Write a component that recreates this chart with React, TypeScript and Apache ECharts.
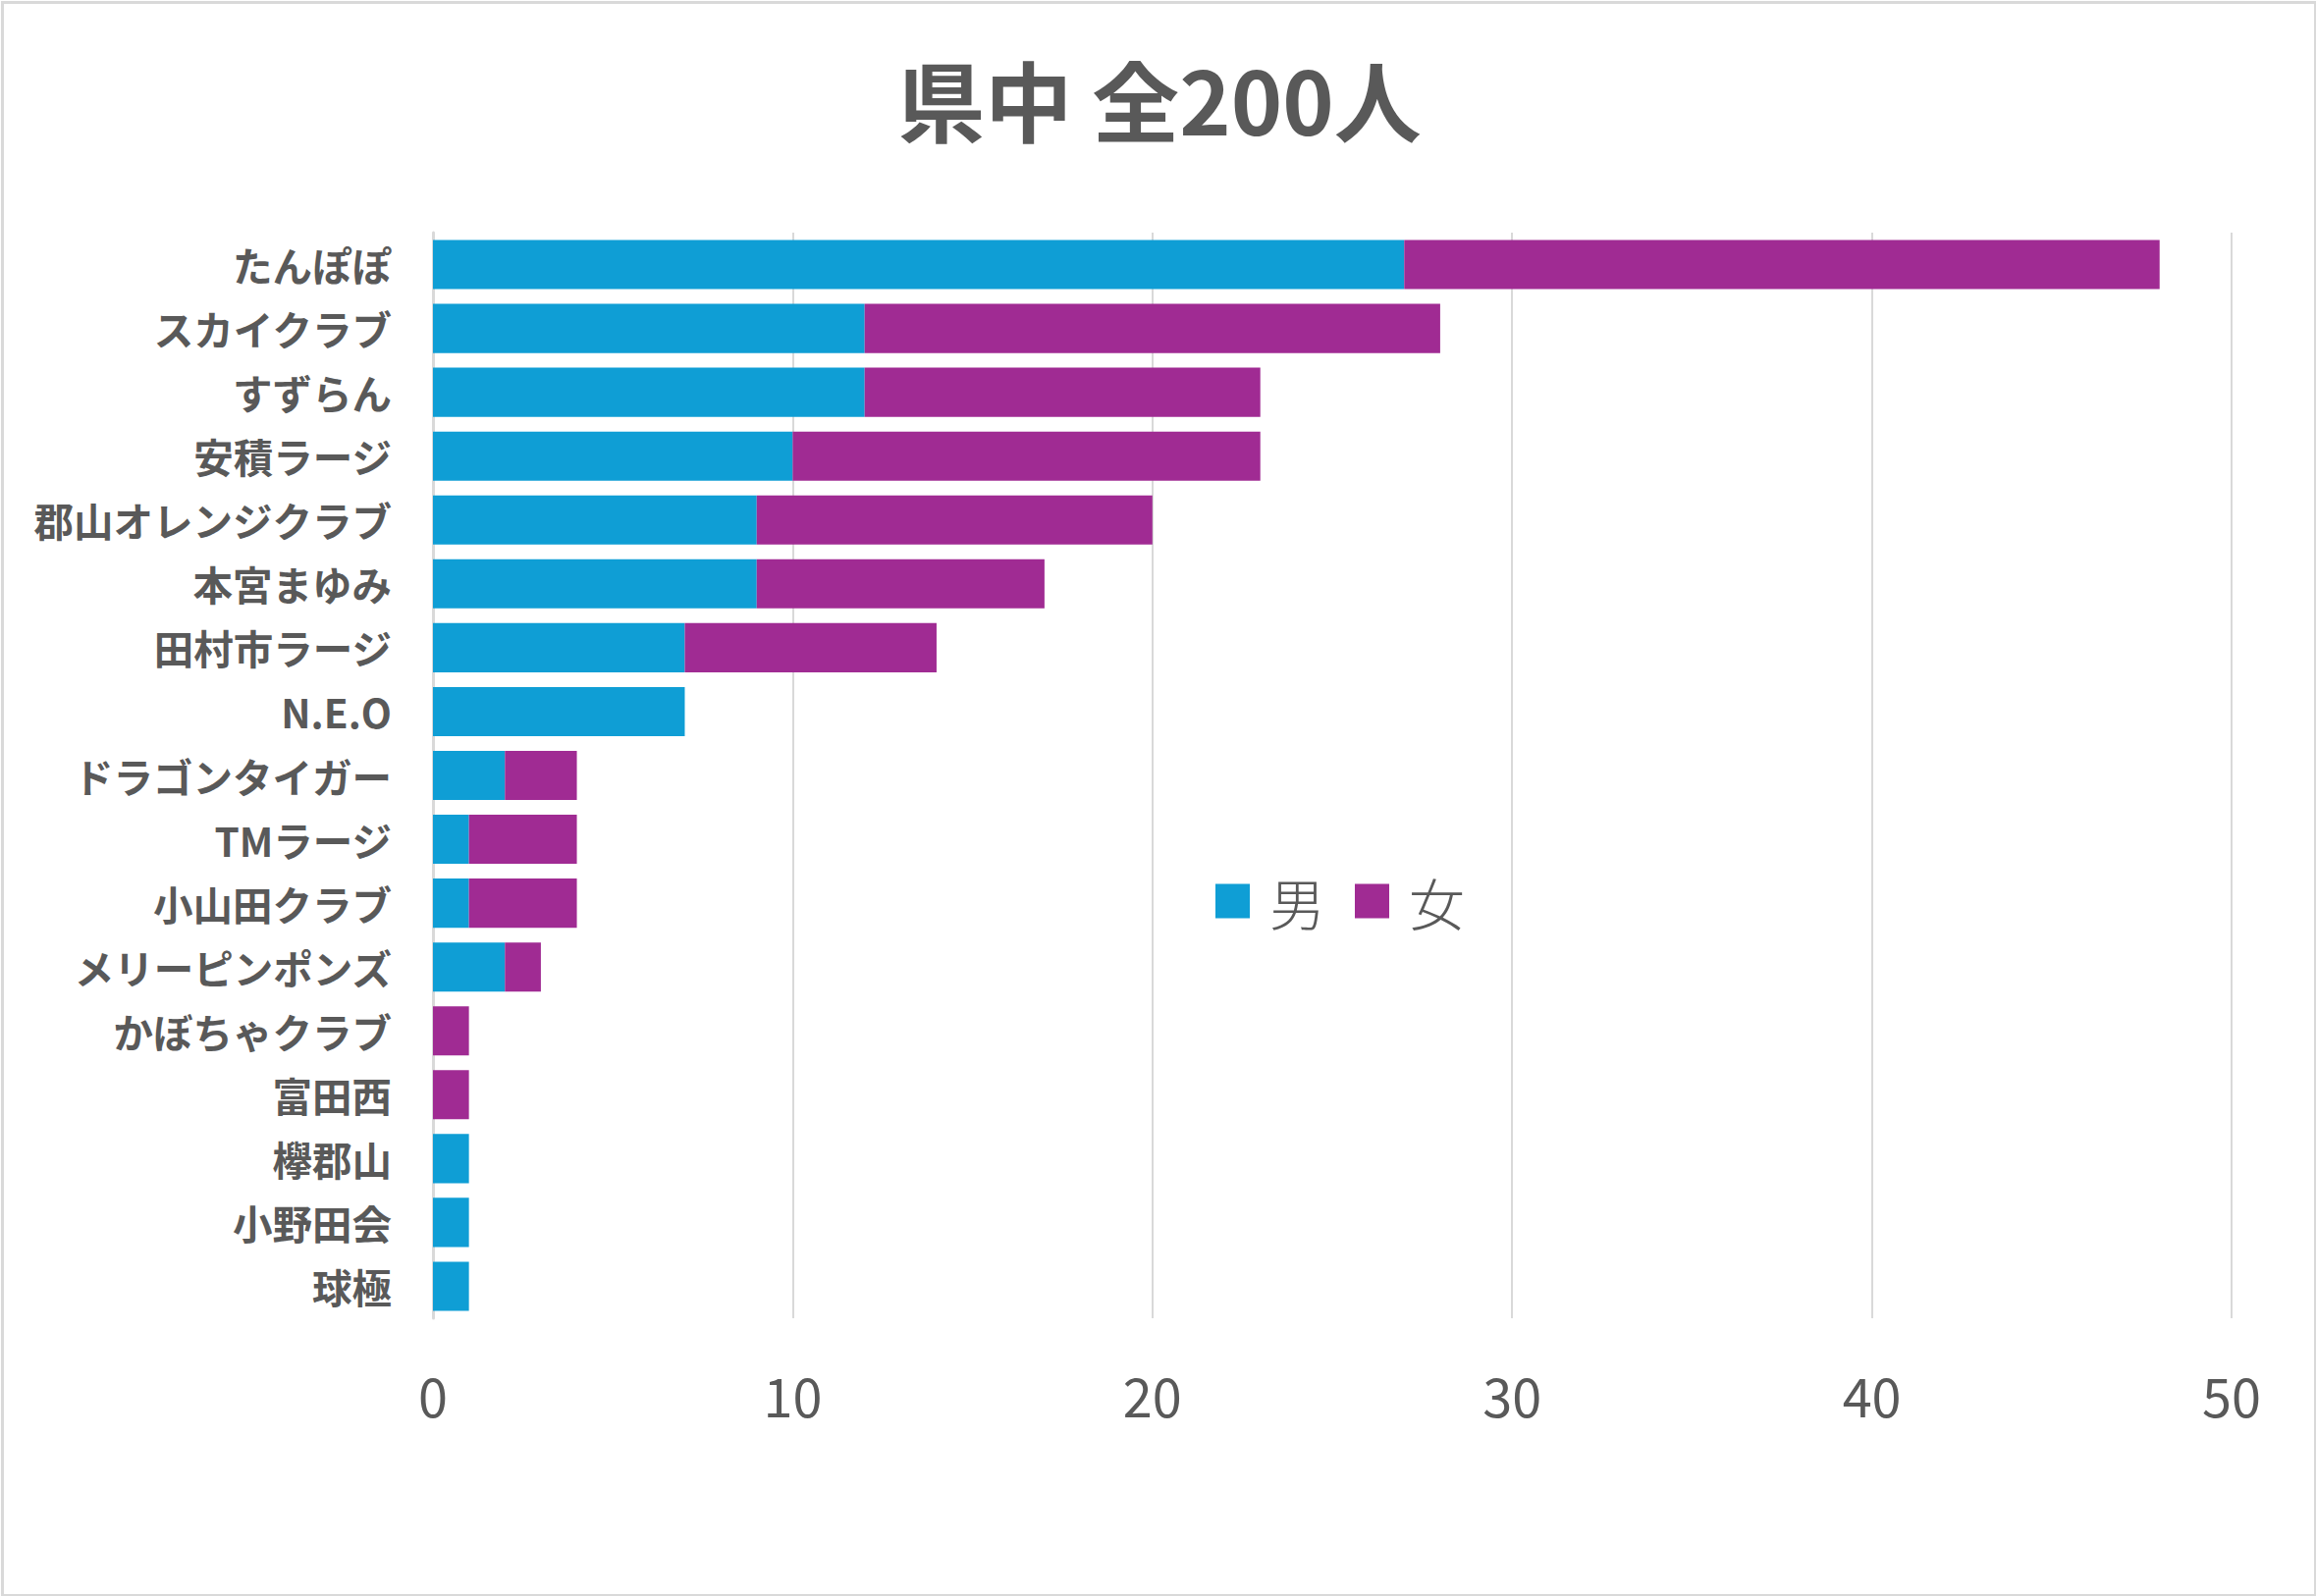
import React, { useEffect, useRef } from "react";
import * as echarts from "echarts";

const categories = [
  "たんぽぽ",
  "スカイクラブ",
  "すずらん",
  "安積ラージ",
  "郡山オレンジクラブ",
  "本宮まゆみ",
  "田村市ラージ",
  "N.E.O",
  "ドラゴンタイガー",
  "TMラージ",
  "小山田クラブ",
  "メリーピンポンズ",
  "かぼちゃクラブ",
  "富田西",
  "欅郡山",
  "小野田会",
  "球極",
];
const maleValues = [27, 12, 12, 10, 9, 9, 7, 7, 2, 1, 1, 2, 0, 0, 1, 1, 1];
const femaleValues = [21, 16, 11, 13, 11, 8, 7, 0, 2, 3, 3, 1, 1, 1, 0, 0, 0];
const seriesNames = ["男", "女"];
const titleText = "県中 全200人";
const axisTicks = [0, 10, 20, 30, 40, 50];

const FONT = "'Noto Sans CJK JP', 'Noto Sans', sans-serif";
const W = 2359;
const H = 1626;

export default function App() {
  const ref = useRef<HTMLDivElement>(null);
  useEffect(() => {
    if (!ref.current) return;
    const chart = echarts.init(ref.current, null, { renderer: "svg" });
    chart.setOption({
      animation: false,
      backgroundColor: "#ffffff",
      textStyle: { fontFamily: FONT },
      title: {
        text: titleText,
        left: 1176,
        top: 50,
        textAlign: "center",
        textStyle: {
          fontFamily: FONT,
          fontSize: 89,
          fontWeight: "bold",
          color: "#595959",
        },
      },
      legend: {
        data: seriesNames,
        left: 1233,
        top: 883,
        orient: "horizontal",
        itemWidth: 35,
        itemHeight: 35,
        itemGap: 30,
        icon: "rect",
        textStyle: {
          fontFamily: FONT,
          fontSize: 57,
          fontWeight: 300,
          color: "#595959",
          lineHeight: 60,
          padding: [0, 0, 0, 15],
        },
      },
      grid: {
        left: 441,
        right: W - 2273,
        top: 237,
        bottom: H - 1343,
        containLabel: false,
      },
      xAxis: {
        type: "value",
        min: axisTicks[0],
        max: axisTicks[axisTicks.length - 1],
        interval: 10,
        axisLine: { show: false },
        axisTick: { show: false },
        splitLine: { show: true, lineStyle: { color: "#D9D9D9", width: 2 } },
        axisLabel: {
          fontFamily: FONT,
          fontSize: 54,
          color: "#595959",
          margin: 50,
        },
      },
      yAxis: {
        type: "category",
        data: categories,
        inverse: true,
        axisLine: { show: true, lineStyle: { color: "#D9D9D9", width: 3 } },
        axisTick: { show: false },
        axisLabel: {
          fontFamily: FONT,
          fontSize: 40.5,
          fontWeight: "bold",
          color: "#595959",
          margin: 42,
          padding: [0, 0, 6, 0],
        },
      },
      series: [
        {
          name: seriesNames[0],
          type: "bar",
          stack: "total",
          data: maleValues,
          barCategoryGap: "23%",
          itemStyle: { color: "#0F9ED5" },
        },
        {
          name: seriesNames[1],
          type: "bar",
          stack: "total",
          data: femaleValues,
          barCategoryGap: "23%",
          itemStyle: { color: "#A02B93" },
        },
      ],
      graphic: [
        {
          type: "rect",
          left: 0,
          top: 0,
          shape: { x: 1.5, y: 1.5, width: W - 3, height: H - 3 },
          style: { fill: "none", stroke: "#D9D9D9", lineWidth: 3 },
          silent: true,
          z: 100,
        },
      ],
    });
    return () => chart.dispose();
  }, []);
  return (
    <div
      ref={ref}
      style={{ position: "fixed", left: 0, top: 0, width: W, height: H }}
    />
  );
}
